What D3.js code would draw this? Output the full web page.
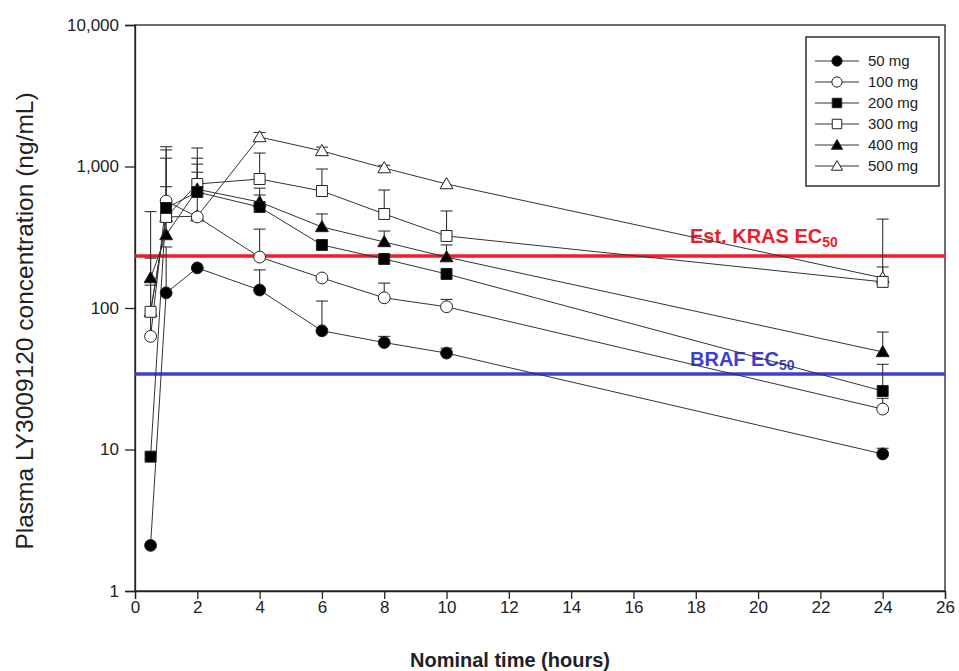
<!DOCTYPE html>
<html>
<head>
<meta charset="utf-8">
<script src="https://cdn.jsdelivr.net/npm/d3@7"></script>
<style>
  body { margin: 0; background: #fff; }
  svg { font-family: "Liberation Sans", Arial, sans-serif; }
</style>
</head>
<body>
<svg id="chart" width="959" height="671"></svg>
<script>
// Sampling times (hours)
const times = [0.5, 1, 2, 4, 6, 8, 10, 24];
const doses = ["50 mg", "100 mg", "200 mg", "300 mg", "400 mg", "500 mg"];

// Mean concentration (ng/mL) and top of the error bar for each dose
const conc50 = [2.1, 128, 192, 134, 69, 57, 48, 9.3];
const upper50 = [null, 270, null, 186, 112, 63, 52, 10.2];
const conc100 = [63, 570, 440, 229, 163, 118, 102, 19.3];
const upper100 = [225, 1380, 911, 361, null, 150, 115, 23];
const conc200 = [8.9, 509, 660, 517, 279, 222, 174, 25.9];
const upper200 = [null, 1310, 1145, 629, null, null, null, 40];
const conc300 = [94, 440, 752, 816, 671, 462, 323, 153];
const upper300 = [145, 1145, 1352, 1245, 960, 682, 485, 425];
const conc400 = [163, 328, 690, 561, 374, 293, 229, 48.9];
const upper400 = [480, 720, 1039, 703, 462, 350, 279, 67.6];
const conc500 = [94, 440, 445, 1616, 1288, 975, 752, 163];
const upper500 = [null, null, null, 1740, 1370, 1020, null, 195];

// Reference lines
const krasEC50 = 233;
const brafEC50 = 34.2;

const xTicks = d3.range(0, 27, 2);
const yTicks = [1, 10, 100, 1000, 10000];

const series = [
  { name: doses[0], values: conc50, upper: upper50, symbol: d3.symbolCircle, filled: true },
  { name: doses[1], values: conc100, upper: upper100, symbol: d3.symbolCircle, filled: false },
  { name: doses[2], values: conc200, upper: upper200, symbol: d3.symbolSquare, filled: true },
  { name: doses[3], values: conc300, upper: upper300, symbol: d3.symbolSquare, filled: false },
  { name: doses[4], values: conc400, upper: upper400, symbol: d3.symbolTriangle, filled: true },
  { name: doses[5], values: conc500, upper: upper500, symbol: d3.symbolTriangle, filled: false },
];
// open markers go underneath, filled ones on top (like the original)
const drawOrder = [5, 3, 1, 4, 2, 0];

const margin = { top: 25, right: 14, bottom: 80, left: 135 };
const width = 959, height = 671;

const svg = d3.select("#chart");

const x = d3.scaleLinear().domain([0, 26]).range([margin.left, width - margin.right]);
const y = d3.scaleLog().domain([1, 10000]).range([height - margin.bottom, margin.top]);

function sizeOf(sym) {
  if (sym === d3.symbolCircle) return 110;
  if (sym === d3.symbolSquare) return 120;
  return 72;
}

// Frame
svg.append("rect")
  .attr("x", x(0)).attr("y", y(10000))
  .attr("width", x(26) - x(0)).attr("height", y(1) - y(10000))
  .attr("fill", "none").attr("stroke", "#222").attr("stroke-width", 1.3);

// Axes
const xAxis = svg.append("g")
  .attr("transform", `translate(0,${y(1)})`)
  .call(d3.axisBottom(x).tickValues(xTicks).tickSize(8).tickPadding(2).tickFormat(d3.format("d")));
const yAxis = svg.append("g")
  .attr("transform", `translate(${x(0)},0)`)
  .call(d3.axisLeft(y).tickValues(yTicks).tickSize(10).tickPadding(6).tickFormat(d3.format(",")));

[xAxis, yAxis].forEach(g => {
  g.select(".domain").attr("stroke", "#222").attr("stroke-width", 1.3);
  g.selectAll(".tick line").attr("stroke", "#222").attr("stroke-width", 1.3);
  g.selectAll(".tick text").attr("fill", "#222").style("font-size", "17px")
    .style("font-family", "'Liberation Sans', Arial, sans-serif");
});

// Axis titles
svg.append("text")
  .attr("x", (x(0) + x(26)) / 2 - 30).attr("y", 667)
  .attr("text-anchor", "middle")
  .style("font-size", "20px").style("font-weight", "bold").attr("fill", "#222")
  .text("Nominal time (hours)");

svg.append("text")
  .attr("transform", `translate(33,${(y(1) + y(10000)) / 2 + 13}) rotate(-90)`)
  .attr("text-anchor", "middle")
  .style("font-size", "24.5px").attr("fill", "#222")
  .text("Plasma LY3009120 concentration (ng/mL)");

// Reference lines
svg.append("line")
  .attr("x1", x(0)).attr("x2", x(26))
  .attr("y1", y(krasEC50)).attr("y2", y(krasEC50))
  .attr("stroke", "#ee1c2a").attr("stroke-width", 3.5);
svg.append("line")
  .attr("x1", x(0)).attr("x2", x(26))
  .attr("y1", y(brafEC50)).attr("y2", y(brafEC50))
  .attr("stroke", "#3c3fd0").attr("stroke-width", 3.5);

const kras = svg.append("text")
  .attr("x", 690).attr("y", y(krasEC50) - 13)
  .attr("fill", "#ee1c2a").style("font-size", "20px").style("font-weight", "bold");
kras.append("tspan").text("Est. KRAS EC");
kras.append("tspan").attr("dy", 4).style("font-size", "14px").text("50");

const braf = svg.append("text")
  .attr("x", 690).attr("y", y(brafEC50) - 8)
  .attr("fill", "#3c3fd0").style("font-size", "20px").style("font-weight", "bold");
braf.append("tspan").text("BRAF EC");
braf.append("tspan").attr("dy", 4).style("font-size", "14px").text("50");

// Connecting lines
const line = d3.line().x(d => x(d.t)).y(d => y(d.v));
const plot = svg.append("g");
series.forEach(s => {
  const pts = times.map((t, i) => ({ t, v: s.values[i] }));
  plot.append("path")
    .attr("d", line(pts))
    .attr("fill", "none").attr("stroke", "#333").attr("stroke-width", 1);
});

// Error bars (upper only)
series.forEach(s => {
  const bars = times.map((t, i) => ({ t, v: s.values[i], u: s.upper[i] })).filter(d => d.u != null);
  const g = plot.append("g").attr("stroke", "#333").attr("stroke-width", 1.1);
  g.selectAll("line.v").data(bars).enter().append("line")
    .attr("x1", d => x(d.t)).attr("x2", d => x(d.t))
    .attr("y1", d => y(d.v)).attr("y2", d => y(d.u));
  g.selectAll("line.c").data(bars).enter().append("line")
    .attr("x1", d => x(d.t) - 6).attr("x2", d => x(d.t) + 6)
    .attr("y1", d => y(d.u)).attr("y2", d => y(d.u));
});

// Markers
drawOrder.forEach(k => {
  const s = series[k];
  const sym = d3.symbol().type(s.symbol).size(sizeOf(s.symbol));
  plot.append("g").selectAll("path")
    .data(times.map((t, i) => ({ t, v: s.values[i] })))
    .enter().append("path")
    .attr("d", sym)
    .attr("transform", d => `translate(${x(d.t)},${y(d.v) + (s.symbol === d3.symbolTriangle ? 1 : 0)})`)
    .attr("fill", s.filled ? "#000" : "#fff")
    .attr("stroke", "#222").attr("stroke-width", 1);
});

// Legend
const legend = svg.append("g");
legend.append("rect")
  .attr("x", 806).attr("y", 37).attr("width", 133).attr("height", 149)
  .attr("fill", "#fff").attr("stroke", "#333").attr("stroke-width", 1.5);
series.forEach((s, i) => {
  const ly = 61 + i * 21;
  legend.append("line")
    .attr("x1", 815).attr("x2", 859).attr("y1", ly).attr("y2", ly)
    .attr("stroke", "#333").attr("stroke-width", 1);
  legend.append("path")
    .attr("d", d3.symbol().type(s.symbol).size(sizeOf(s.symbol) * 0.75))
    .attr("transform", `translate(837,${ly + (s.symbol === d3.symbolTriangle ? 1 : 0)})`)
    .attr("fill", s.filled ? "#000" : "#fff")
    .attr("stroke", "#222").attr("stroke-width", 1);
  legend.append("text")
    .attr("x", 868).attr("y", ly + 5)
    .attr("fill", "#222").style("font-size", "15px")
    .text(s.name);
});
</script>
</body>
</html>
